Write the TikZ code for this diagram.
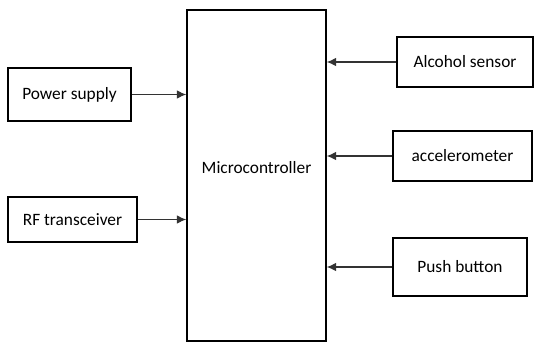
\documentclass[tikz,border=0pt]{standalone}
\usepackage{fontspec}
\setmainfont{Carlito}
\usetikzlibrary{arrows.meta}

\begin{document}
\begin{tikzpicture}[x=0.75pt,y=-0.75pt,
    blockbox/.style={draw, line width=1.4pt, inner sep=0pt, font=\fontsize{13}{15}\selectfont},
    link/.style={draw=black!80, line width=0.9pt, -{Latex[length=7pt,width=6.5pt]}}]
    \useasboundingbox (0,0) rectangle (534,343);

    % the controller in the middle
    \node[blockbox, minimum width=104pt, minimum height=248pt] (mc) at (256.5,175.5) {};
    \node[font=\fontsize{13}{15}\selectfont] (mctext) at (256.5,168) {Microcontroller};

    % inputs on the left
    \node[blockbox, minimum width=92pt, minimum height=40pt] (pwr) at (69.5,94.5) {Power supply};
    \node[blockbox, minimum width=97pt, minimum height=34pt] (rf) at (72.5,219.5) {RF transceiver};

    % sensors on the right
    \node[blockbox, minimum width=102pt, minimum height=37.5pt] (alc) at (465,62) {Alcohol sensor};
    \node[blockbox, minimum width=104pt, minimum height=37.5pt] (acc) at (462.5,156) {accelerometer};
    \node[blockbox, minimum width=100.5pt, minimum height=43.5pt] (push) at (460,267) {Push button};

    % connections
    \draw[link] (pwr.east) -- (pwr.east -| mc.west);
    \draw[link] (rf.east) -- (rf.east -| mc.west);
    \draw[link] (alc.west) -- (alc.west -| mc.east);
    \draw[link] (acc.west) -- (acc.west -| mc.east);
    \draw[link] (push.west) -- (push.west -| mc.east);
\end{tikzpicture}
\end{document}
